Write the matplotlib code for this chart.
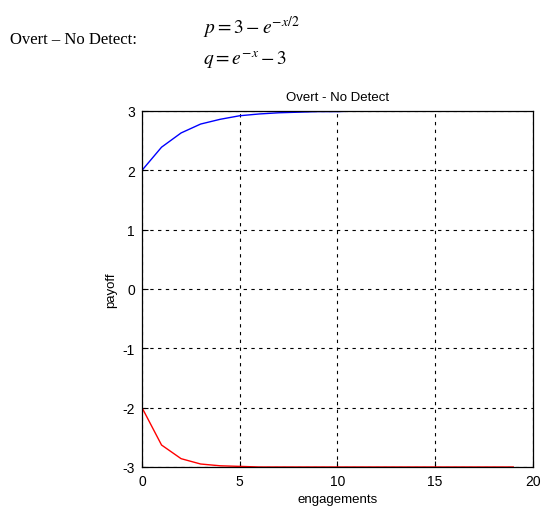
import matplotlib
matplotlib.use("Agg")
import matplotlib.pyplot as plt

engagements = list(range(20))
p_values = [2.0, 2.39, 2.63, 2.78, 2.86, 2.92, 2.95, 2.97, 2.98, 2.99,
            2.99, 3.0, 3.0, 3.0, 3.0, 3.0, 3.0, 3.0, 3.0, 3.0]
q_values = [-2.0, -2.63, -2.86, -2.95, -2.98, -2.99, -3.0, -3.0, -3.0, -3.0,
            -3.0, -3.0, -3.0, -3.0, -3.0, -3.0, -3.0, -3.0, -3.0, -3.0]
xticks = [0, 5, 10, 15, 20]
yticks = [-3, -2, -1, 0, 1, 2, 3]

plt.rcParams['font.family'] = ['Liberation Sans', 'DejaVu Sans']
plt.rcParams['mathtext.fontset'] = 'stix'
plt.rcParams['axes.unicode_minus'] = False

fig = plt.figure(figsize=(5.42, 5.10), dpi=100)
fig.text(0.018, 0.922, "Overt \u2013 No Detect:", family='Liberation Serif',
         fontsize=12, va='center', ha='left')
fig.text(0.375, 0.945, r"$p = 3 - e^{-x/2}$", fontsize=14, va='center', ha='left')
fig.text(0.375, 0.882, r"$q = e^{-x} - 3$", fontsize=14, va='center', ha='left')

ax = fig.add_axes([0.262, 0.0824, 0.721, 0.698])
ax.plot(engagements, p_values, color='blue', lw=1)
ax.plot(engagements, q_values, color='red', lw=1)
ax.set_xlim(0, 20)
ax.set_ylim(-3, 3)
ax.set_xticks(xticks)
ax.set_yticks(yticks)
ax.tick_params(direction='in', labelsize=10, length=4, pad=5)
ax.grid(True, color='black', linestyle=(0, (3, 4)), lw=0.8)
for s in ax.spines.values():
    s.set_linewidth(0.9)
ax.set_title("Overt - No Detect", fontsize=9.5, pad=8)
ax.set_xlabel("engagements", fontsize=9.5, labelpad=4)
ax.set_ylabel("payoff", fontsize=9.5, labelpad=4)

fig.savefig("out.png", dpi=100)
